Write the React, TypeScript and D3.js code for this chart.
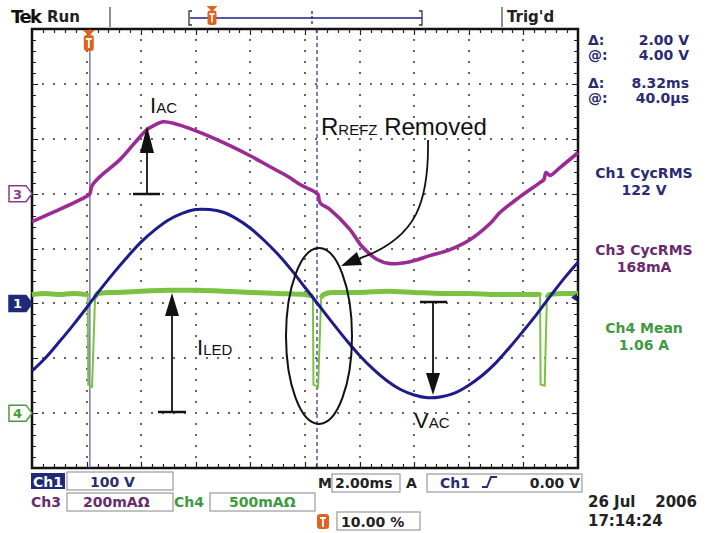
import React from 'react';
import * as d3 from 'd3';

// ---------- data ----------
// time axis: ms from left edge of graticule (2 ms/div, 10 div)
const ch1TimeMs = [0,0.5,1,1.5,2,2.5,3,3.5,4,4.5,5,5.5,6,6.5,7,7.5,8,8.5,9,9.5,10,10.5,11,11.5,12,12.5,13,13.5,14,14.5,15,15.5,16,16.5,17,17.5,18,18.5,19,19.5,20];
const ch1Volts = [-123,-99,-70,-40,-8,25,56,85,112,134,152,164,171,171,166,154,137,115,90,61,29,-3,-35,-66,-95,-120,-141,-157,-167,-172,-170,-163,-149,-131,-108,-80,-50,-19,14,46,75];

const ch3TimeMs = [0,0.66,1.39,2.05,2.12,2.2,2.49,3.22,3.77,4.21,4.51,4.8,5.24,5.79,6.52,7.25,7.99,8.72,9.45,9.82,10.4,10.48,10.55,10.92,11.65,12.09,12.64,13.11,13.85,14.58,15.31,16.04,16.78,17.14,17.88,18.61,18.75,18.83,18.97,19.34,20];
const ch3mA = [-102,-73,-40,-7,0,29,62,124,186,233,251,262,255,237,208,175,138,98,58,33,4,-4,-33,-58,-131,-193,-240,-255,-248,-226,-204,-168,-109,-69,-11,40,51,77,66,95,149];

const ch4TimeMs = [0,0.5,1,1.5,2,2.04,2.06,2.2,2.31,2.4,3,4,5,6,7,8,9,10,10.26,10.29,10.31,10.48,10.59,10.68,11,12,13,14,15,16,17,18,18.58,18.61,18.63,18.78,18.86,18.95,19.5,20];
const ch4Amps = [1.08,1.09,1.08,1.09,1.08,1.07,0.26,0.24,1.05,1.09,1.1,1.11,1.12,1.12,1.11,1.1,1.09,1.08,1.07,1.07,0.26,0.24,1.05,1.08,1.1,1.1,1.11,1.1,1.09,1.09,1.08,1.08,1.08,1.07,0.26,0.25,1.05,1.08,1.09,1.09];

// channel settings
const ch1Scale = 100; // V/div
const ch1Pos = -1; // div
const ch3Scale = 200; // mA/div
const ch3Pos = 1;
const ch4Scale = 0.5; // A/div
const ch4Pos = -3;

const cursorTimesMs = [2.12, 10.44];
const triggerTimeMs = 2.08;

const readoutCursor = [['Δ:', '2.00 V'], ['@:', '4.00 V'], ['Δ:', '8.32ms'], ['@:', '40.0µs']];
const measurements = [
  { l1: 'Ch1 CycRMS', l2: '122 V', color: '#2b2b72' },
  { l1: 'Ch3 CycRMS', l2: '168mA', color: '#6a2a6e' },
  { l1: 'Ch4 Mean', l2: '1.06 A', color: '#3f9a3f' },
];

const NAVY = '#1f1f8a';
const BLUE = '#1c1c8e';
const MAG = '#9c2a94';
const GRN = '#7cc242';
const ORANGE = '#e0621e';
const SCOPE_FONT = "'DejaVu Sans', Verdana, sans-serif";
const ANN_FONT = "'Liberation Sans', Arial, sans-serif";
const W_ = 706;
const H_ = 533;

type P = { t: number; d: number };

function TMark({ cx, top, s = 1 }: { cx: number; top: number; s?: number }) {
  return (
    <g>
      <polygon points={`${cx - 6 * s},${top} ${cx + 6 * s},${top} ${cx},${top + 6 * s}`} fill={ORANGE} />
      <rect x={cx - 5 * s} y={top + 5 * s} width={10 * s} height={16 * s} rx={3 * s} fill={ORANGE} />
      <path d={`M${cx - 3 * s},${top + 9 * s} H${cx + 3 * s} M${cx},${top + 9 * s} V${top + 18 * s}`} stroke="#fff" strokeWidth={1.8 * s} />
    </g>
  );
}

export default function App() {
  const x = d3.scaleLinear().domain([0, 20]).range([32, 578]);
  const y = d3.scaleLinear().domain([-4, 4]).range([468, 29]);

  const ch1: P[] = ch1TimeMs.map((t, i) => ({ t, d: ch1Pos + ch1Volts[i] / ch1Scale }));
  const ch3: P[] = ch3TimeMs.map((t, i) => ({ t, d: ch3Pos + ch3mA[i] / ch3Scale }));
  const ch4: P[] = ch4TimeMs.map((t, i) => ({ t, d: ch4Pos + ch4Amps[i] / ch4Scale }));

  const smooth = d3.line<P>().x(p => x(p.t)).y(p => y(p.d)).curve(d3.curveCatmullRom.alpha(0.5));
  const straight = d3.line<P>().x(p => x(p.t)).y(p => y(p.d));
  const greenLevel = d3.line<P>().defined(p => p.d > ch4Pos + 1.6).x(p => x(p.t)).y(p => y(p.d)).curve(d3.curveMonotoneX);

  // graticule dots as one path
  let dotPath = '';
  d3.range(1, 10).forEach(i => {
    const px = Math.round(x(i * 2));
    d3.range(1, 40).forEach(k => {
      const py = Math.round(y(-4 + k * 0.2));
      dotPath += `M${px - 1},${py - 1}h2v2h-2z`;
    });
  });
  d3.range(-3, 4).forEach(v => {
    const py = Math.round(y(v));
    d3.range(1, 50).forEach(k => {
      const px = Math.round(x(k * 0.4));
      dotPath += `M${px - 1},${py - 1}h2v2h-2z`;
    });
  });
  // frame ticks as one path
  let tickPath = '';
  d3.range(1, 50).forEach(k => {
    const px = Math.round(x(k * 0.4)) + 0.5;
    const L = k % 5 === 0 ? 6 : 4;
    tickPath += `M${px},${y(4)}v${L}M${px},${y(-4)}v${-L}`;
  });
  d3.range(1, 40).forEach(k => {
    const py = Math.round(y(-4 + k * 0.2)) + 0.5;
    const L = k % 5 === 0 ? 6 : 4;
    tickPath += `M${x(0)},${py}h${L}M${x(20)},${py}h${-L}`;
  });

  const chMarker = (v: number, label: string, color: string, filled: boolean) => {
    const cy = y(v);
    return (
      <g key={label}>
        <path d={`M9,${cy - 8} H26 L32,${cy} L26,${cy + 8} H9 Z`} fill={filled ? color : '#fff'} stroke={color} strokeWidth={1.5} />
        <text x={17.5} y={cy + 5} textAnchor="middle" fontFamily={SCOPE_FONT} fontWeight="bold" fontSize={13} fill={filled ? '#fff' : color}>{label}</text>
      </g>
    );
  };

  return (
    <svg width={W_} height={H_} style={{ position: 'absolute', left: 0, top: 0, background: '#fff' }}>
      <rect width={W_} height={H_} fill="#fff" />
      {/* top bar */}
      <text x={11} y={23} fontFamily={SCOPE_FONT} fontWeight="bold" fontSize={18} fill="#111" letterSpacing={-1.5}>Tek</text>
      <text x={47} y={22} fontFamily={SCOPE_FONT} fontWeight="bold" fontSize={15} fill="#222">Run</text>
      <line x1={110} x2={110} y1={7} y2={27} stroke="#444" strokeWidth={1.2} />
      <path d="M192,11 H189 V25 H192" fill="none" stroke="#333" strokeWidth={1.3} />
      <line x1={190} x2={422} y1={18} y2={18} stroke={NAVY} strokeWidth={1.5} />
      <path d="M419,11 H422 V25 H419" fill="none" stroke="#333" strokeWidth={1.3} />
      <line x1={312} x2={312} y1={11} y2={25} stroke={NAVY} strokeWidth={1.3} strokeDasharray="3,2" />
      <TMark cx={212} top={6} s={0.9} />
      <line x1={502} x2={502} y1={7} y2={27} stroke="#444" strokeWidth={1.2} />
      <text x={507} y={22} fontFamily={SCOPE_FONT} fontWeight="bold" fontSize={15} fill="#222">Trig'd</text>

      {/* graticule */}
      <path d={dotPath} fill="#666" stroke="none" />
      <path d={tickPath} fill="none" stroke="#222" strokeWidth={1.2} />
      <rect x={x(0)} y={y(4)} width={x(20) - x(0)} height={y(-4) - y(4)} fill="none" stroke="#111" strokeWidth={2.5} />

      {/* cursors */}
      <line x1={x(cursorTimesMs[0])} x2={x(cursorTimesMs[0])} y1={y(4)} y2={y(-4)} stroke="#5a5aa6" strokeWidth={1.2} />
      <line x1={x(cursorTimesMs[1])} x2={x(cursorTimesMs[1])} y1={y(4)} y2={y(-4)} stroke="#3a3a96" strokeWidth={1.3} strokeDasharray="4,3" />

      {/* traces */}
      <path d={straight(ch4) || ''} fill="none" stroke={GRN} strokeWidth={2} />
      <path d={greenLevel(ch4) || ''} fill="none" stroke={GRN} strokeWidth={5} />
      <path d={smooth(ch3) || ''} fill="none" stroke={MAG} strokeWidth={3.6} strokeLinejoin="round" />
      <path d={smooth(ch1) || ''} fill="none" stroke={BLUE} strokeWidth={3} />

      {/* trigger marker */}
      <TMark cx={x(triggerTimeMs)} top={30} />
      <polygon points={`571,${y(ch1Pos) - 6} 577,${y(ch1Pos) - 10} 577,${y(ch1Pos) - 2}`} fill={NAVY} />

      {/* channel markers */}
      {chMarker(ch3Pos, '3', '#8a3a8a', false)}
      {chMarker(ch1Pos, '1', '#1e2a7a', true)}
      {chMarker(ch4Pos, '4', '#4a9a3a', false)}

      {/* annotations */}
      <g fill="#111" stroke="none" fontFamily={ANN_FONT}>
        <text x={150} y={113} fontSize={22}>I<tspan fontSize={15}>AC</tspan></text>
        <text x={197} y={355} fontSize={22}>I<tspan fontSize={15}>LED</tspan></text>
        <text x={414} y={428} fontSize={22}>V<tspan fontSize={15}>AC</tspan></text>
        <text x={321} y={135} fontSize={24}>R<tspan fontSize={15}>REFZ</tspan> Removed</text>
      </g>
      <g stroke="#111" strokeWidth={1.8} fill="none">
        <line x1={147} x2={147} y1={194} y2={150} />
        <line x1={133} x2={160} y1={194} y2={194} strokeWidth={2.5} />
        <line x1={172} x2={172} y1={412} y2={312} />
        <line x1={158} x2={186} y1={412} y2={412} strokeWidth={2.5} />
        <line x1={433} x2={433} y1={302} y2={376} />
        <line x1={420} x2={447} y1={302} y2={302} strokeWidth={2.5} />
        <ellipse cx={319} cy={336} rx={33} ry={88} strokeWidth={2} />
        <path d="M428,140 C429,200 418,238 359.5,258.4" />
      </g>
      <g fill="#111">
        <polygon points="147,126 140,153 154,153" />
        <polygon points="172,293 165,316 179,316" />
        <polygon points="433,395 426,373 440,373" />
        <polygon points="341,266 362.2,264.9 356.8,251.9" />
      </g>

      {/* right readouts */}
      <g fontFamily={SCOPE_FONT} fontWeight="bold" fontSize={14} fill="#2b2b72">
        {readoutCursor.map((r, i) => {
          const yy = 45 + i * 15 + (i >= 2 ? 13 : 0);
          return (
            <g key={i}>
              <text x={588} y={yy}>{r[0]}</text>
              <text x={689} y={yy} textAnchor="end">{r[1]}</text>
            </g>
          );
        })}
      </g>
      {measurements.map((m, i) => {
        const base = [178, 255, 333][i];
        return (
          <g key={m.l1} fontFamily={SCOPE_FONT} fontWeight="bold" fontSize={14} fill={m.color} textAnchor="middle">
            <text x={644} y={base}>{m.l1}</text>
            <text x={644} y={base + 17}>{m.l2}</text>
          </g>
        );
      })}

      {/* bottom status */}
      <g fontFamily={SCOPE_FONT} fontWeight="bold" fontSize={14}>
        <rect x={31} y={473} width={34} height={16} fill="#1e2a78" />
        <text x={33} y={487} fill="#fff">Ch1</text>
        <rect x={67} y={472} width={106} height={18} fill="none" stroke="#999" strokeWidth={1.2} />
        <text x={90} y={487} fill="#2b2b72">100 V</text>

        <text x={31} y={507} fill="#6a2a6e">Ch3</text>
        <rect x={67} y={493} width={106} height={18} fill="none" stroke="#999" strokeWidth={1.2} />
        <text x={83} y={507} fill="#6a2a6e">200mAΩ</text>
        <text x={174} y={507} fill="#3f9a3f">Ch4</text>
        <rect x={210} y={493} width={105} height={18} fill="none" stroke="#999" strokeWidth={1.2} />
        <text x={229} y={507} fill="#3f9a3f">500mAΩ</text>

        <text x={318} y={488} fill="#222">M</text>
        <rect x={332} y={474} width={68} height={18} fill="none" stroke="#999" strokeWidth={1.2} />
        <text x={335} y={488} fill="#222">2.00ms</text>
        <text x={406} y={488} fill="#222">A</text>
        <rect x={427} y={474} width={155} height={18} fill="none" stroke="#999" strokeWidth={1.2} />
        <text x={440} y={488} fill="#2b2b72">Ch1</text>
        <path d="M482,487 H487 L491,477 H497" fill="none" stroke="#2b2b72" strokeWidth={2} />
        <text x={580} y={488} textAnchor="end" fill="#222">0.00 V</text>

        <rect x={337} y={512} width={83} height={18} fill="none" stroke="#999" strokeWidth={1.2} />
        <text x={341} y={527} fill="#222">10.00 %</text>

        <text x={588} y={507} fill="#222" fontSize={15}>26 Jul</text>
        <text x={697} y={507} fill="#222" fontSize={15} textAnchor="end">2006</text>
        <text x={588} y={526} fill="#222" fontSize={15}>17:14:24</text>
      </g>
      <g>
        <rect x={317} y={514} width={12} height={15} rx={3} fill={ORANGE} />
        <path d="M320,518 H326 M323,518 V527" stroke="#fff" strokeWidth={1.8} />
      </g>
    </svg>
  );
}
